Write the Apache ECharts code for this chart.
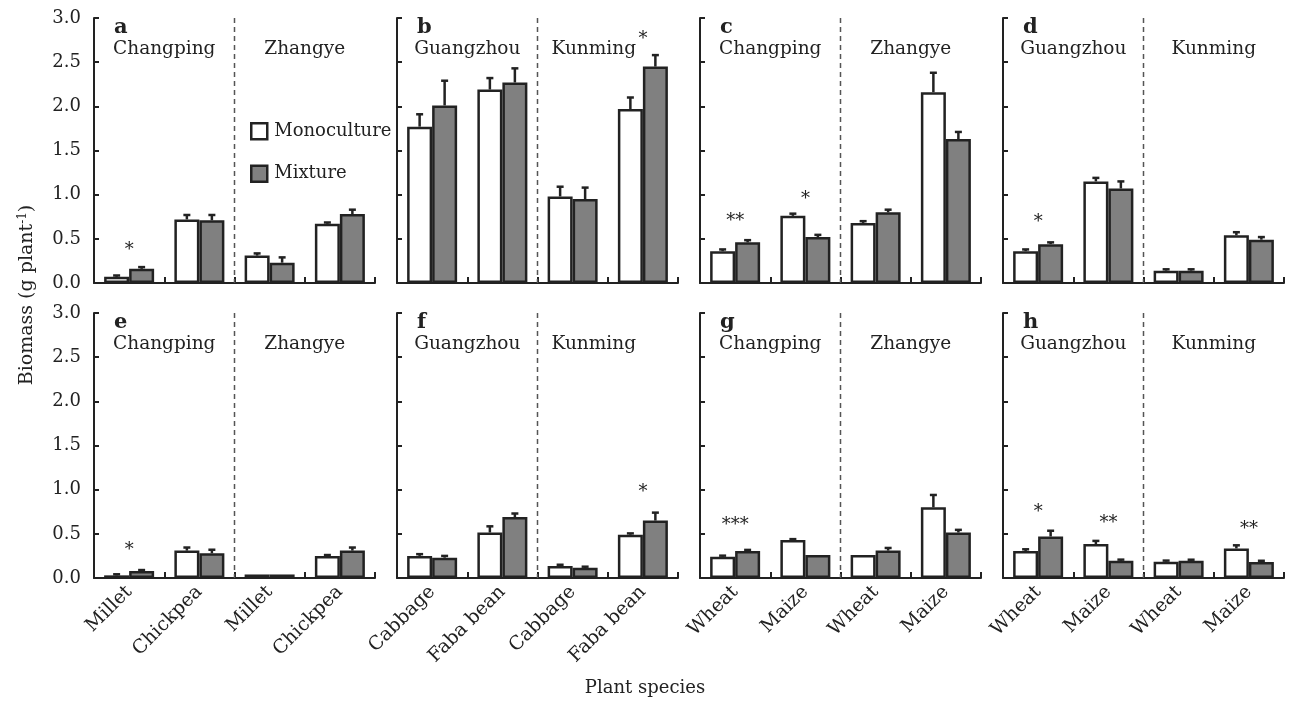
<!DOCTYPE html>
<html><head><meta charset="utf-8">
<script src="https://cdn.jsdelivr.net/npm/echarts@6/dist/echarts.min.js"></script>
<style>html,body{margin:0;padding:0;background:#fff}#c{width:1290px;height:702px}</style>
</head><body><div id="c"></div>
<script>
// ---------- data ----------
const panelLetters = ['a','b','c','d','e','f','g','h'];
const sitesCZ = ['Changping','Zhangye'];
const sitesGK = ['Guangzhou','Kunming'];
const speciesMC = ['Millet','Chickpea','Millet','Chickpea'];
const speciesCF = ['Cabbage','Faba bean','Cabbage','Faba bean'];
const speciesWM = ['Wheat','Maize','Wheat','Maize'];
const seriesNames = ['Monoculture','Mixture'];
const yMin = 0, yMax = 3, yStep = 0.5;

// panel a
const monoA = [0.07, 0.72, 0.31, 0.67];  const seMonoA = [0.015, 0.05, 0.025, 0.015];
const mixA  = [0.16, 0.71, 0.23, 0.78];  const seMixA  = [0.02, 0.06, 0.06, 0.05];
const starsA = [[0, 0.37, '*']];
// panel b
const monoB = [1.77, 2.19, 0.98, 1.97];  const seMonoB = [0.14, 0.13, 0.11, 0.13];
const mixB  = [2.01, 2.27, 0.95, 2.45];  const seMixB  = [0.28, 0.16, 0.13, 0.13];
const starsB = [[3, 2.76, '*']];
// panel c
const monoC = [0.36, 0.76, 0.68, 2.16];  const seMonoC = [0.02, 0.025, 0.02, 0.22];
const mixC  = [0.46, 0.52, 0.80, 1.63];  const seMixC  = [0.025, 0.025, 0.03, 0.08];
const starsC = [[0, 0.70, '**'], [1, 0.95, '*']];
// panel d
const monoD = [0.36, 1.15, 0.14, 0.54];  const seMonoD = [0.02, 0.04, 0.015, 0.035];
const mixD  = [0.44, 1.07, 0.14, 0.49];  const seMixD  = [0.02, 0.08, 0.015, 0.03];
const starsD = [[0, 0.69, '*']];
// panel e
const monoE = [0.03, 0.31, 0.04, 0.25];  const seMonoE = [0.012, 0.035, 0, 0.01];
const mixE  = [0.08, 0.28, 0.04, 0.31];  const seMixE  = [0.01, 0.04, 0, 0.035];
const starsE = [[0, 0.31, '*']];
// panel f
const monoF = [0.25, 0.515, 0.135, 0.49]; const seMonoF = [0.02, 0.07, 0.015, 0.015];
const mixF  = [0.23, 0.69, 0.115, 0.65];  const seMixF  = [0.02, 0.04, 0.013, 0.09];
const starsF = [[3, 0.97, '*']];
// panel g
const monoG = [0.24, 0.43, 0.26, 0.80];  const seMonoG = [0.013, 0.01, 0, 0.14];
const mixG  = [0.305, 0.26, 0.31, 0.515]; const seMixG = [0.013, 0, 0.03, 0.03];
const starsG = [[0, 0.60, '***']];
// panel h
const monoH = [0.305, 0.385, 0.185, 0.335]; const seMonoH = [0.02, 0.035, 0.012, 0.035];
const mixH  = [0.47, 0.195, 0.195, 0.18];   const seMixH  = [0.065, 0.013, 0.012, 0.015];
const starsH = [[0, 0.74, '*'], [1, 0.62, '**'], [3, 0.55, '**']];

const panels = [
  {sites: sitesCZ, species: speciesMC, mono: monoA, seMono: seMonoA, mix: mixA, seMix: seMixA, stars: starsA},
  {sites: sitesGK, species: speciesCF, mono: monoB, seMono: seMonoB, mix: mixB, seMix: seMixB, stars: starsB},
  {sites: sitesCZ, species: speciesWM, mono: monoC, seMono: seMonoC, mix: mixC, seMix: seMixC, stars: starsC},
  {sites: sitesGK, species: speciesWM, mono: monoD, seMono: seMonoD, mix: mixD, seMix: seMixD, stars: starsD},
  {sites: sitesCZ, species: speciesMC, mono: monoE, seMono: seMonoE, mix: mixE, seMix: seMixE, stars: starsE},
  {sites: sitesGK, species: speciesCF, mono: monoF, seMono: seMonoF, mix: mixF, seMix: seMixF, stars: starsF},
  {sites: sitesCZ, species: speciesWM, mono: monoG, seMono: seMonoG, mix: mixG, seMix: seMixG, stars: starsG},
  {sites: sitesGK, species: speciesWM, mono: monoH, seMono: seMonoH, mix: mixH, seMix: seMixH, stars: starsH}
];

// ---------- layout / style ----------
const FONT = '"DejaVu Serif", "Liberation Serif", serif';
const INK = '#222';
const GRID_LEFT0 = 94, COL_STEP = 303, GRID_W = 281, GRID_H = 265, ROW_TOPS = [18, 313];
const BAR_W = 25;

const chart = echarts.init(document.getElementById('c'), null, {renderer: 'canvas'});

const grids = [], xAxes = [], yAxes = [], series = [], graphics = [];

panels.forEach((p, i) => {
  const row = Math.floor(i / 4), col = i % 4;
  const left = GRID_LEFT0 + col * COL_STEP, top = ROW_TOPS[row];
  grids.push({left: left, top: top, width: GRID_W, height: GRID_H});
  xAxes.push({
    type: 'category', gridIndex: i, data: p.species,
    axisLine: {show: true, lineStyle: {color: INK, width: 2}},
    axisTick: {show: true, inside: true, length: 6, lineStyle: {color: INK, width: 2}},
    axisLabel: {show: row === 1, rotate: 45, interval: 0, margin: 11,
      fontFamily: FONT, fontSize: 19, color: INK},
    splitLine: {show: false}
  });
  yAxes.push({
    type: 'value', gridIndex: i, min: yMin, max: yMax, interval: yStep,
    axisLine: {show: true, lineStyle: {color: INK, width: 2}},
    axisTick: {show: true, inside: true, length: 5, lineStyle: {color: INK, width: 2}},
    axisLabel: {show: col === 0, margin: 13, fontFamily: FONT, fontSize: 18, color: INK,
      formatter: v => v.toFixed(1)},
    splitLine: {show: false}
  });
  series.push({
    name: seriesNames[0], type: 'bar', xAxisIndex: i, yAxisIndex: i, data: p.mono,
    barWidth: BAR_W, barGap: '0%',
    itemStyle: {color: '#ffffff', borderColor: INK, borderWidth: 2.5},
    emphasis: {disabled: true}, z: 2
  });
  series.push({
    name: seriesNames[1], type: 'bar', xAxisIndex: i, yAxisIndex: i, data: p.mix,
    barWidth: BAR_W, barGap: '0%',
    itemStyle: {color: '#808080', borderColor: INK, borderWidth: 2.5},
    emphasis: {disabled: true}, z: 2
  });
  [[p.mono, p.seMono, -1], [p.mix, p.seMix, 1]].forEach(([vals, ses, side]) => {
    series.push({
      type: 'custom', xAxisIndex: i, yAxisIndex: i, z: 4, silent: true,
      data: vals.map((v, k) => [k, v, v + ses[k]]),
      encode: {x: 0, y: [1, 2]},
      renderItem: (params, api) => {
        if (api.value(2) - api.value(1) <= 0) return null;
        const p0 = api.coord([api.value(0), api.value(1)]);
        const p1 = api.coord([api.value(0), api.value(2)]);
        const x = p0[0] + side * BAR_W / 2;
        return {type: 'group', children: [
          {type: 'line', shape: {x1: x, y1: p0[1], x2: x, y2: p1[1]}, style: {stroke: INK, lineWidth: 2.5}},
          {type: 'line', shape: {x1: x - 3.5, y1: p1[1], x2: x + 3.5, y2: p1[1]}, style: {stroke: INK, lineWidth: 2.5}}
        ]};
      }
    });
  });
  // significance stars
  series.push({
    type: 'custom', xAxisIndex: i, yAxisIndex: i, z: 5, silent: true,
    data: p.stars, encode: {x: 0, y: 1},
    renderItem: (params, api) => {
      const pt = api.coord([api.value(0), api.value(1)]);
      return {type: 'text', x: pt[0], y: pt[1],
        style: {text: p.stars[params.dataIndex][2], font: '18px ' + FONT, fill: INK,
          align: 'center', verticalAlign: 'middle'}};
    }
  });
  // dashed site separator
  series.push({
    type: 'custom', xAxisIndex: i, yAxisIndex: i, z: 1, silent: true,
    data: [[1, yMin, yMax]], encode: {x: 0, y: [1, 2]},
    renderItem: (params, api) => {
      const bw = api.size([1, 0])[0];
      const b = api.coord([api.value(0), api.value(1)]);
      const t = api.coord([api.value(0), api.value(2)]);
      const x = b[0] + bw / 2;
      return {type: 'line', shape: {x1: x, y1: t[1], x2: x, y2: b[1]},
        style: {stroke: '#555', lineWidth: 1.5, lineDash: [5, 4]}};
    }
  });
  // panel letter and site names
  graphics.push({type: 'text', x: left + 20, y: top - 1,
    style: {text: panelLetters[i], font: 'bold 21px ' + FONT, fill: INK, align: 'left', verticalAlign: 'top'}});
  p.sites.forEach((s, k) => {
    const shift = (col === 1 && k === 1) ? -14 : 0;
    graphics.push({type: 'text', x: left + GRID_W * (k === 0 ? 0.25 : 0.75) + shift, y: top + 31,
      style: {text: s, font: '18.5px ' + FONT, fill: INK, align: 'center', verticalAlign: 'middle'}});
  });
});

graphics.push({
  type: 'text', x: 27, y: 295, rotation: Math.PI / 2,
  style: {text: '{a|Biomass (g plant}{s|-1}{a|)}', align: 'center', verticalAlign: 'middle',
    rich: {a: {font: '19px ' + FONT, fill: INK},
           s: {font: '12px ' + FONT, fill: INK, padding: [0, 0, 9, 0]}}}
});
graphics.push({
  type: 'text', x: 645, y: 688,
  style: {text: 'Plant species', font: '18px ' + FONT, fill: INK, align: 'center', verticalAlign: 'middle'}
});

chart.setOption({
  backgroundColor: '#ffffff',
  animation: false,
  grid: grids, xAxis: xAxes, yAxis: yAxes, series: series,
  legend: {
    data: [
      {name: 'Monoculture', itemStyle: {color: '#ffffff', borderColor: INK, borderWidth: 2.5}},
      {name: 'Mixture', itemStyle: {color: '#808080', borderColor: INK, borderWidth: 2.5}}
    ],
    orient: 'vertical', left: 245, top: 117, itemWidth: 16, itemHeight: 16, itemGap: 24,
    icon: 'rect', selectedMode: false,
    textStyle: {fontFamily: FONT, fontSize: 18, color: INK, padding: [0, 0, 0, 2]}
  },
  graphic: graphics
});
</script>
</body></html>
